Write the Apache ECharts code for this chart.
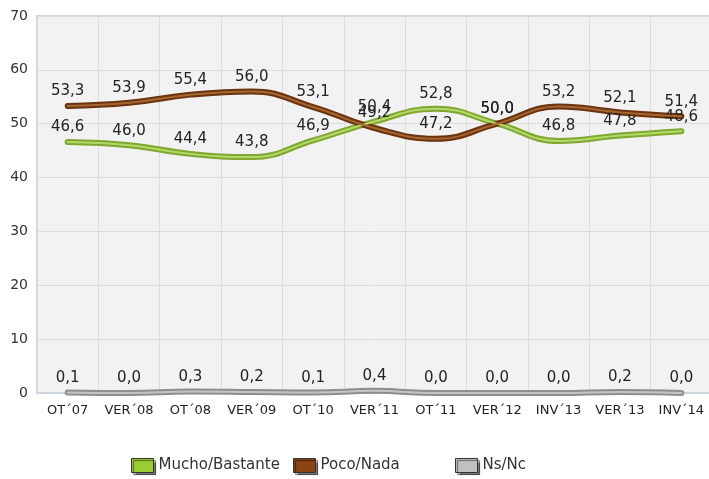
<!DOCTYPE html>
<html>
<head>
<meta charset="utf-8">
<script src="https://cdn.jsdelivr.net/npm/echarts@6/dist/echarts.min.js"></script>
<style>html,body{margin:0;padding:0;background:#fff;overflow:hidden;width:709px;height:479px;}#c{width:720px;height:479px;}</style>
</head>
<body>
<div id="c"></div>
<script>
var categories = ['OT´07','VER´08','OT´08','VER´09','OT´10','VER´11','OT´11','VER´12','INV´13','VER´13','INV´14'];
var mucho = [46.6, 46.0, 44.4, 43.8, 46.9, 50.4, 52.8, 50.0, 46.8, 47.8, 48.6];
var poco = [53.3, 53.9, 55.4, 56.0, 53.1, 49.2, 47.2, 50.0, 53.2, 52.1, 51.4];
var nsnc = [0.1, 0.0, 0.3, 0.2, 0.1, 0.4, 0.0, 0.0, 0.0, 0.2, 0.0];
var seriesNames = ['Mucho/Bastante', 'Poco/Nada', 'Ns/Nc'];
var yTicks = [0, 10, 20, 30, 40, 50, 60, 70];

var FONT = 'DejaVu Sans';
function fmt(p){ return p.value.toFixed(1).replace('.', ','); }

function mainSeries(name, data, color){
  return {
    name: name, type: 'line', data: data, smooth: 0.45,
    symbol: 'circle', symbolSize: 0.1, showSymbol: true,
    lineStyle: { width: 6, color: color, cap: 'round' },
    itemStyle: { color: color },
    label: { show: true, position: 'top', distance: 7, formatter: fmt,
             fontFamily: FONT, fontSize: 15, color: '#222' },
    emphasis: { disabled: true }, z: 2
  };
}
function highlight(name, data, color){
  return {
    name: name + '_hl', type: 'line', data: data, smooth: 0.45,
    symbol: 'none', silent: true,
    lineStyle: { width: 2, color: color, cap: 'round' },
    emphasis: { disabled: true }, z: 3
  };
}
function legend(name, left, color){
  return {
    left: left, top: 458, padding: 0, itemWidth: 22, itemHeight: 14, itemGap: 8,
    icon: 'rect', selectedMode: false,
    textStyle: { fontFamily: FONT, fontSize: 15, color: '#333' },
    data: [{ name: name, itemStyle: { color: color, borderColor: '#333', borderWidth: 1,
      shadowColor: 'rgba(0,0,0,0.5)', shadowOffsetX: 2, shadowOffsetY: 2, shadowBlur: 1 } }]
  };
}

var chart = echarts.init(document.getElementById('c'), null, { renderer: 'canvas' });
chart.setOption({
  animation: false,
  backgroundColor: '#ffffff',
  grid: { left: 37, right: 8, top: 16, bottom: 86, show: true,
          backgroundColor: '#F2F2F2', borderColor: '#CDD5DF', borderWidth: 2 },
  legend: [
    legend(seriesNames[0], 131, '#9ACD32'),
    legend(seriesNames[1], 293, '#8B4513'),
    legend(seriesNames[2], 455, '#C0C0C0')
  ],
  xAxis: {
    type: 'category', data: categories, boundaryGap: true,
    axisLine: { show: true, lineStyle: { color: '#CDD5DF', width: 2 } },
    axisTick: { show: false },
    axisLabel: { fontFamily: FONT, fontSize: 13, color: '#222', margin: 11, interval: 0 },
    splitLine: { show: true, interval: 0, lineStyle: { color: '#DCDCDC', width: 1 } }
  },
  yAxis: {
    type: 'value', min: yTicks[0], max: yTicks[yTicks.length - 1], interval: 10,
    axisLine: { show: false }, axisTick: { show: false },
    axisLabel: { fontFamily: FONT, fontSize: 14, color: '#333', margin: 9 },
    splitLine: { show: true, lineStyle: { color: '#DCDCDC', width: 1 } }
  },
  series: [
    mainSeries(seriesNames[2], nsnc, '#8E8E8E'),
    highlight(seriesNames[2], nsnc, '#C4C4C4'),
    mainSeries(seriesNames[0], mucho, '#7FA82F'),
    highlight(seriesNames[0], mucho, '#B4D86A'),
    mainSeries(seriesNames[1], poco, '#6B330F'),
    highlight(seriesNames[1], poco, '#A4672F')
  ]
});
</script>
</body>
</html>
